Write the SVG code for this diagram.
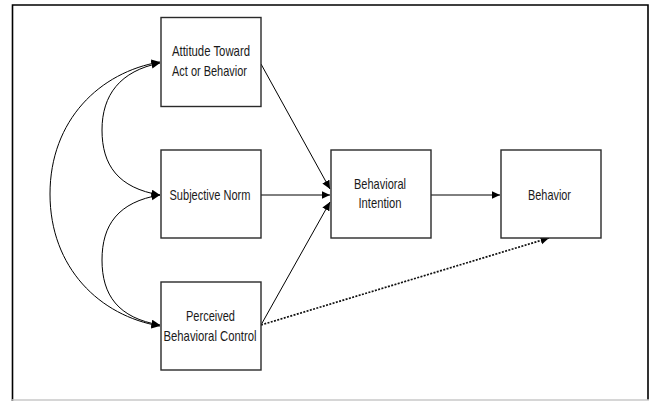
<svg xmlns="http://www.w3.org/2000/svg" width="649" height="401" viewBox="0 0 649 401">
<style>
.box{fill:#fff;stroke:#2a2a2a;stroke-width:1.4}
.lbl{font-family:"Liberation Sans",Arial,sans-serif;font-size:15px;fill:#1a1a1a;text-anchor:middle}
.con{fill:none;stroke:#000;stroke-width:1}
.dot{fill:none;stroke:#111;stroke-width:1.7;stroke-dasharray:2 1.4}
</style>
<defs>
<marker id="ah" markerUnits="userSpaceOnUse" markerWidth="10" markerHeight="9" refX="8.5" refY="4" orient="auto-start-reverse">
<path d="M0,0 L8.5,4 L0,8 z" fill="#000"/>
</marker>
</defs>
<rect x="0" y="0" width="649" height="401" fill="#fff"/>
<g id="frame">
<path d="M12.5,401 L12.5,5 L648,5 L648,400" fill="none" stroke="#000" stroke-width="1.6"/>
<line x1="12" y1="400" x2="649" y2="400" stroke="#c8c8c8" stroke-width="1.5"/>
</g>
<g id="connectors">
<path class="con" d="M160,63 C120,71 102,95 102,130 C102,165 118,188 160,195" marker-start="url(#ah)" marker-end="url(#ah)"/>
<path class="con" d="M160,195 C118,202 102,225 102,260 C102,295 118,318 160,325" marker-start="url(#ah)" marker-end="url(#ah)"/>
<path class="con" d="M160,62 C100,72 50,120 50,194 C50,268 100,316 160,326" marker-start="url(#ah)" marker-end="url(#ah)"/>
<line class="con" x1="261" y1="64" x2="330" y2="189" marker-end="url(#ah)"/>
<line class="con" x1="261" y1="195" x2="330" y2="195" marker-end="url(#ah)"/>
<line class="con" x1="261" y1="325" x2="330" y2="202" marker-end="url(#ah)"/>
<line class="con" x1="431" y1="195" x2="500" y2="195" marker-end="url(#ah)"/>
<line class="dot" x1="261" y1="325" x2="549" y2="238" marker-end="url(#ah)"/>
</g>
<g id="attitude">
<rect class="box" x="161" y="17.5" width="100" height="89"/>
<text class="lbl" x="211" y="56" textLength="78" lengthAdjust="spacingAndGlyphs">Attitude Toward</text>
<text class="lbl" x="209.5" y="75.5" textLength="75" lengthAdjust="spacingAndGlyphs">Act or Behavior</text>
</g>
<g id="subjective-norm">
<rect class="box" x="161" y="150" width="100" height="88"/>
<text class="lbl" x="210" y="199.5" textLength="81" lengthAdjust="spacingAndGlyphs">Subjective Norm</text>
</g>
<g id="perceived-control">
<rect class="box" x="161" y="282" width="100" height="88"/>
<text class="lbl" x="210.5" y="321" textLength="49" lengthAdjust="spacingAndGlyphs">Perceived</text>
<text class="lbl" x="210" y="341" textLength="93" lengthAdjust="spacingAndGlyphs">Behavioral Control</text>
</g>
<g id="behavioral-intention">
<rect class="box" x="331" y="150" width="100" height="88"/>
<text class="lbl" x="380" y="188.5" textLength="52" lengthAdjust="spacingAndGlyphs">Behavioral</text>
<text class="lbl" x="380" y="208" textLength="43" lengthAdjust="spacingAndGlyphs">Intention</text>
</g>
<g id="behavior">
<rect class="box" x="501" y="150" width="100" height="88"/>
<text class="lbl" x="549.5" y="200" textLength="43" lengthAdjust="spacingAndGlyphs">Behavior</text>
</g>
</svg>
